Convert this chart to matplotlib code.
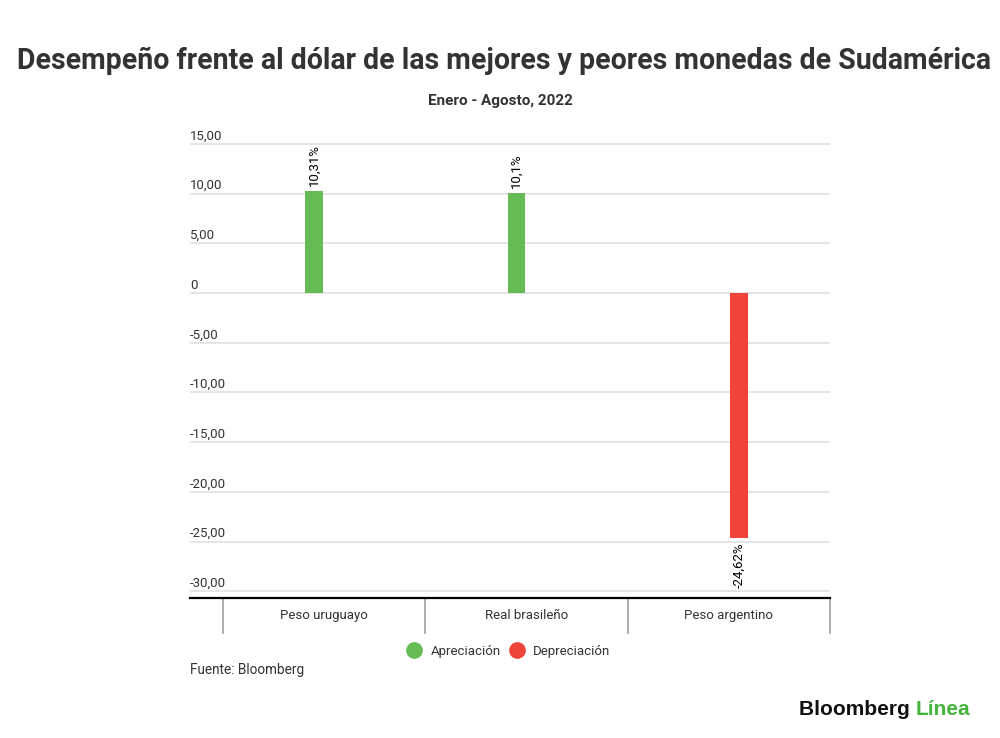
import numpy as np
import matplotlib.pyplot as plt
from matplotlib.lines import Line2D

# data
categories = ["Peso uruguayo", "Real brasileño", "Peso argentino"]
apreciacion = [10.31, 10.1, 0]
depreciacion = [0, 0, -24.62]
apreciacion_labels = ["10,31%", "10,1%", None]
depreciacion_labels = [None, None, "-24,62%"]
yticks = [15, 10, 5, 0, -5, -10, -15, -20, -25, -30]
ytick_labels = ["15,00", "10,00", "5,00", "0", "-5,00", "-10,00", "-15,00",
                "-20,00", "-25,00", "-30,00"]

green = "#66bb55"
red = "#f0443a"
dark = "#333333"

plt.rcParams['font.family'] = ['Roboto', 'DejaVu Sans']

fig = plt.figure(figsize=(10, 7.38), dpi=100)
ax = fig.add_axes([0.19, 0.1897, 0.64, 0.622])

x = np.arange(len(categories))
w = 0.085
off = 0.05
for i in range(len(categories)):
    if apreciacion[i] != 0:
        ax.bar(x[i] - off, apreciacion[i], w, color=green, zorder=3)
        ax.annotate(apreciacion_labels[i], (x[i] - off, apreciacion[i]),
                    xytext=(0, 3), textcoords='offset points', rotation=90,
                    ha='center', va='bottom', fontsize=9.5, color='black')
    if depreciacion[i] != 0:
        ax.bar(x[i] + off, depreciacion[i], w, color=red, zorder=3)
        ax.annotate(depreciacion_labels[i], (x[i] + off, depreciacion[i]),
                    xytext=(0, -3), textcoords='offset points', rotation=90,
                    ha='center', va='top', fontsize=9.5, color='black')

ax.set_xlim(-0.663, 2.5)
ax.set_ylim(-30.67, 15.5)

# gridlines and y labels placed above each line
ytr = ax.get_yaxis_transform()
for v, lab in zip(yticks, ytick_labels):
    ax.axhline(v, color="#e3e3e3", lw=1.3, zorder=1)
    ax.text(0, v + 0.45, lab, transform=ytr, ha='left', va='baseline',
            fontsize=9.5, color=dark)

ax.set_xticks([])
ax.set_yticks([])
for s in ['top', 'right', 'left']:
    ax.spines[s].set_visible(False)
ax.spines['bottom'].set_color('black')
ax.spines['bottom'].set_linewidth(1.6)

# category dividers below the axis
xtr = ax.get_xaxis_transform()
for d in np.arange(len(categories) + 1) - 0.5:
    ax.plot([d, d], [0, -0.077], transform=xtr, color="#a0a0a0", lw=1.2,
            clip_on=False)
for i, c in enumerate(categories):
    ax.text(x[i], -0.038, c, transform=xtr, ha='center', va='center',
            fontsize=9.5, color=dark)

title = fig.text(0.504, 0.917,
                 "Desempeño frente al dólar de las mejores y peores monedas de Sudamérica",
                 ha='center', va='center', fontsize=20, fontweight='bold', color=dark)
fig.canvas.draw()
tw = title.get_window_extent().width
title.set_fontsize(20 * 972 / tw)

fig.text(0.5, 0.863, "Enero - Agosto, 2022", ha='center', va='center',
         fontsize=11, fontweight='bold', color=dark)

handles = [Line2D([], [], ls='none', marker='o', markersize=11, color=green),
           Line2D([], [], ls='none', marker='o', markersize=11, color=red)]
fig.legend(handles, ["Apreciación", "Depreciación"], loc='center',
           bbox_to_anchor=(0.509, 0.1175), ncol=2, frameon=False,
           fontsize=9.5, handletextpad=0.75, columnspacing=0.7,
           handlelength=1.0, labelcolor=dark)

fig.text(0.19, 0.092, "Fuente: Bloomberg", ha='left', va='center',
         fontsize=9.8, color=dark)

logo = fig.text(0.799, 0.038, "Bloomberg ", ha='left', va='center',
                fontsize=15, fontweight='bold', color='#111111',
                family=['Liberation Sans', 'DejaVu Sans'])
fig.canvas.draw()
bb = logo.get_window_extent()
fig.text(bb.x1 / fig.bbox.width, 0.038, "Línea", ha='left', va='center',
         fontsize=15, fontweight='bold', color='#44b53c',
         family=['Liberation Sans', 'DejaVu Sans'])

fig.savefig("out.png", dpi=100, facecolor='white')
